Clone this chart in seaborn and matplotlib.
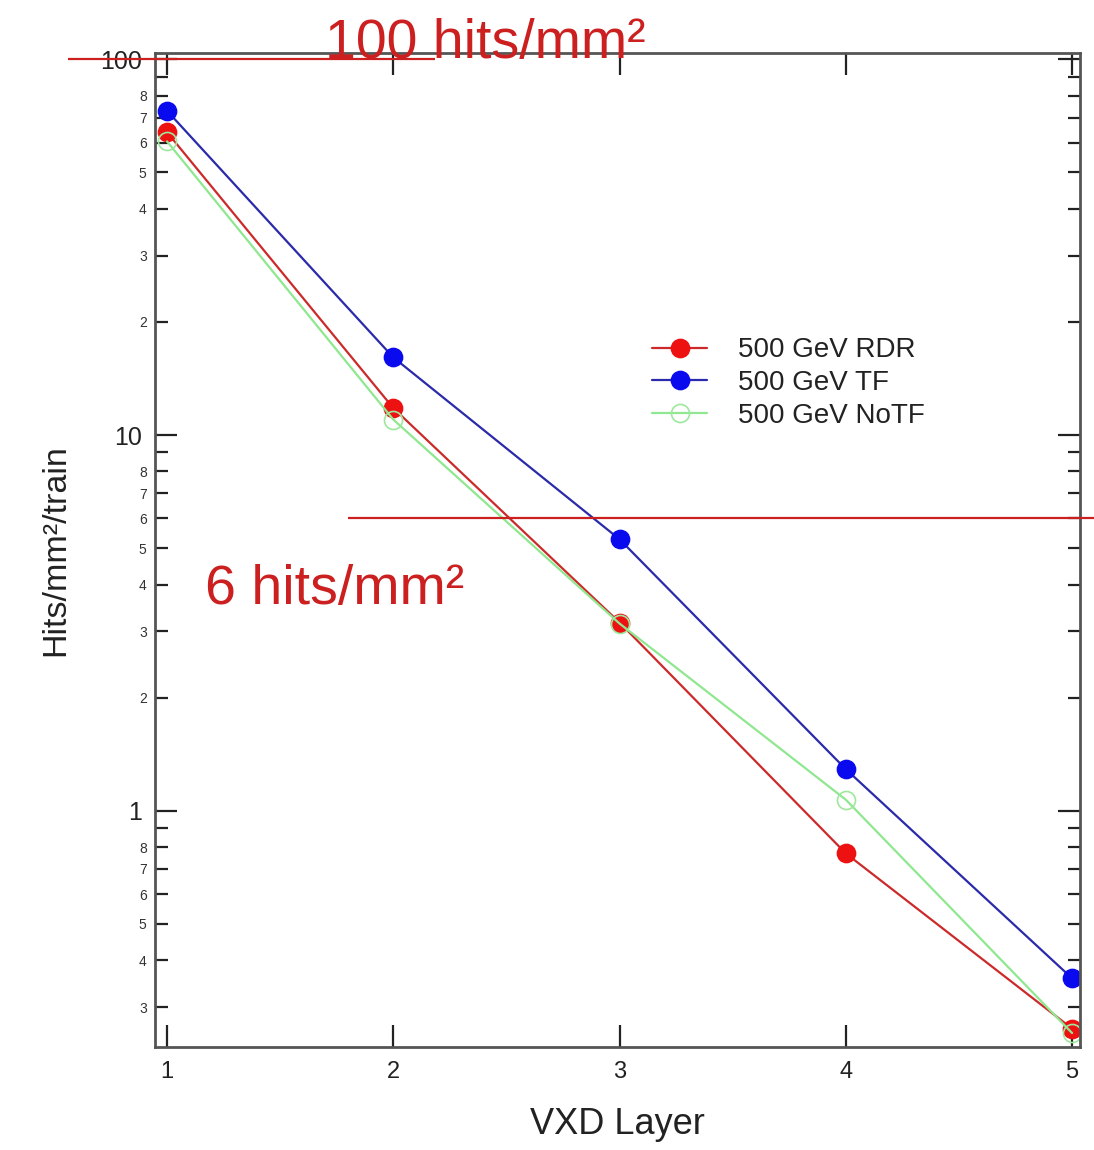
import matplotlib
matplotlib.use("Agg")
import matplotlib.pyplot as plt
import matplotlib.ticker as mticker
import seaborn as sns
import pandas as pd

# ---- data ----
layers = [1, 2, 3, 4, 5]
rdr = [64, 11.8, 3.17, 0.77, 0.263]
tf = [73, 16.1, 5.28, 1.29, 0.358]
notf = [60.5, 11.0, 3.15, 1.07, 0.256]
series_names = ["500 GeV RDR", "500 GeV TF", "500 GeV NoTF"]
thresholds = [100, 6]
threshold_labels = ["100 hits/mm²", "6 hits/mm²"]
x_ticks = [1, 2, 3, 4, 5]
y_major = [1, 10, 100]
y_major_labels = ["1", "10", "100"]
y_minor = [0.3, 0.4, 0.5, 0.6, 0.7, 0.8, 0.9,
           2, 3, 4, 5, 6, 7, 8, 9,
           20, 30, 40, 50, 60, 70, 80, 90]
y_minor_labels = ["3", "4", "5", "6", "7", "8", "",
                  "2", "3", "4", "5", "6", "7", "8", "",
                  "2", "3", "4", "5", "6", "7", "8", ""]

df = pd.DataFrame({
    "layer": layers * 3,
    "hits": rdr + tf + notf,
    "series": [series_names[0]] * 5 + [series_names[1]] * 5 + [series_names[2]] * 5,
})

sns.set_theme(style="white")
plt.rcParams["font.family"] = ["Liberation Sans", "DejaVu Sans"]

fig = plt.figure(figsize=(10.94, 11.5), dpi=100)
ax = fig.add_axes([155 / 1094, 1 - 1047 / 1150, 925 / 1094, 994 / 1150])

styles = {
    series_names[0]: dict(line="#cc2a2a", mfc="#ee1111", mec="#ee1111"),
    series_names[1]: dict(line="#2a2aaa", mfc="#0a0aee", mec="#0a0aee"),
    series_names[2]: dict(line="#8fe88f", mfc="none", mec="#9ee89e"),
}
for name in series_names:
    st = styles[name]
    sub = df[df["series"] == name]
    sns.lineplot(data=sub, x="layer", y="hits", ax=ax, color=st["line"],
                 linewidth=1.6, marker="o", markersize=13,
                 markerfacecolor=st["mfc"], markeredgecolor=st["mec"],
                 markeredgewidth=1.2, label=name)

ax.set_yscale("log")
ax.set_xlim(0.947, 5.035)
ax.set_ylim(0.235, 104)

ax.xaxis.set_major_locator(mticker.FixedLocator(x_ticks))
ax.xaxis.set_major_formatter(mticker.FixedFormatter([str(v) for v in x_ticks]))
ax.xaxis.set_minor_locator(mticker.NullLocator())
ax.yaxis.set_major_locator(mticker.FixedLocator(y_major))
ax.yaxis.set_major_formatter(mticker.FixedFormatter(y_major_labels))
ax.yaxis.set_minor_locator(mticker.FixedLocator(y_minor))
ax.yaxis.set_minor_formatter(mticker.FixedFormatter(y_minor_labels))

ax.tick_params(axis="both", which="major", direction="in", length=16, width=1.6,
               color="#222222", labelcolor="#222222",
               top=True, right=True, left=True, bottom=True)
ax.tick_params(axis="x", which="major", labelsize=17, pad=10)
ax.tick_params(axis="y", which="major", labelsize=18, pad=9)
ax.tick_params(axis="y", which="minor", direction="in", length=9, width=1.6,
               color="#222222", labelsize=10, labelcolor="#333333",
               left=True, right=True, pad=6)

for sp in ax.spines.values():
    sp.set_visible(True)
    sp.set_color("#555555")
    sp.set_linewidth(2.0)

ax.set_xlabel("VXD Layer", fontsize=26, color="#222222", labelpad=17)
ax.set_ylabel("Hits/mm²/train", fontsize=24.5, color="#222222", labelpad=21)

leg = ax.legend(loc="upper left", bbox_to_anchor=(0.522, 0.728), frameon=False,
                fontsize=20, handlelength=2.0, handletextpad=1.1,
                labelspacing=0.25, borderpad=0)
for t in leg.get_texts():
    t.set_color("#222222")

# threshold annotations
red = "#cc2020"
ax.hlines(thresholds[0], 0.562, 2.185, colors=red, linewidth=1.6, clip_on=False, zorder=5)
ax.hlines(thresholds[1], 1.800, 5.097, colors=red, linewidth=1.6, clip_on=False, zorder=5)
ax.text(1.698, 101, threshold_labels[0], color=red, fontsize=40,
        va="baseline", ha="left", clip_on=False)
ax.text(1.168, 3.54, threshold_labels[1], color=red, fontsize=40,
        va="baseline", ha="left", clip_on=False)

fig.savefig("out.png", dpi=100)
